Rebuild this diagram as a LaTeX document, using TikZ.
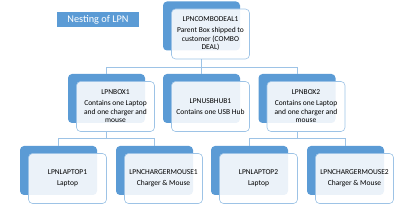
\documentclass[tikz,border=0pt]{standalone}
\usepackage{fontspec}
\setmainfont{Carlito}
\usetikzlibrary{positioning, calc}
\definecolor{lpnblue}{RGB}{91,155,213}
\definecolor{lpnline}{RGB}{157,195,230}
\tikzset{
  backbox/.style={rectangle, rounded corners=4pt, minimum width=77pt, minimum height=49pt, fill=lpnblue, draw=none},
  frontbox/.style={rectangle, rounded corners=4pt, minimum width=78pt, minimum height=50pt, draw=lpnline, line width=0.6pt, fill=white, fill opacity=0.88, text opacity=1, align=center, font=\fontsize{7.5}{8.5}\selectfont, inner sep=1pt},
  titlebox/.style={rectangle, fill=lpnblue, minimum width=82pt, minimum height=15pt, text=white, font=\fontsize{10.3}{12}\selectfont},
  conn/.style={draw=lpnline, line width=0.7pt}
}

\begin{document}
\begin{tikzpicture}[x=1pt, y=-1pt]
  \useasboundingbox (0,0) rectangle (400,208);

  % --- Title ---
  \node (title) [titlebox] at (98,19.5) {Nesting of LPN};

  % --- Back boxes ---
  \node (comboback) [backbox] at (201.5,26) {};
  \node (box1back) [backbox] at (106.5,98.5) {};
  \node (hubback) [backbox] at (201.5,98.5) {};
  \node (box2back) [backbox] at (297,98.5) {};
  \node (laptop1back) [backbox] at (58.5,170.5) {};
  \node (charger1back) [backbox] at (154.5,170.5) {};
  \node (laptop2back) [backbox] at (249.5,170.5) {};
  \node (charger2back) [backbox] at (345.5,170.5) {};

  % --- Front boxes ---
  \node (combo) [frontbox] at ([shift={(9,8)}]comboback.center) {LPNCOMBODEAL1\\[2.5pt] Parent Box shipped to\\ customer (COMBO\\ DEAL)};
  \node (box1) [frontbox] at ([shift={(9,8)}]box1back.center) {LPNBOX1\\[2.5pt] Contains one Laptop\\ and one charger and\\ mouse};
  \node (hub) [frontbox] at ([shift={(9,8)}]hubback.center) {LPNUSBHUB1\\[2.5pt] Contains one USB Hub};
  \node (box2) [frontbox] at ([shift={(9,8)}]box2back.center) {LPNBOX2\\[2.5pt] Contains one Laptop\\ and one charger and\\ mouse};
  \node (laptop1) [frontbox] at ([shift={(9,8)}]laptop1back.center) {LPNLAPTOP1\\[2.5pt] Laptop};
  \node (charger1) [frontbox] at ([shift={(9,8)}]charger1back.center) {LPNCHARGERMOUSE1\\[2.5pt] Charger \& Mouse};
  \node (laptop2) [frontbox] at ([shift={(9,8)}]laptop2back.center) {LPNLAPTOP2\\[2.5pt] Laptop};
  \node (charger2) [frontbox] at ([shift={(9,8)}]charger2back.center) {LPNCHARGERMOUSE2\\[2.5pt] Charger \& Mouse};

  % --- Connectors ---
  \draw [conn] (combo.south -| comboback) -- (hubback.north);
  \draw [conn] (combo.south -| comboback) -- ++(0,8) coordinate (split0) -| (box1back.north);
  \draw [conn] (split0) -| (box2back.north);

  \draw [conn] (box1.south -| box1back) -- ++(0,7) coordinate (split1) -| (laptop1back.north);
  \draw [conn] (split1) -| (charger1back.north);

  \draw [conn] (box2.south -| box2back) -- ++(0,7) coordinate (split2) -| (laptop2back.north);
  \draw [conn] (split2) -| (charger2back.north);
\end{tikzpicture}
\end{document}
